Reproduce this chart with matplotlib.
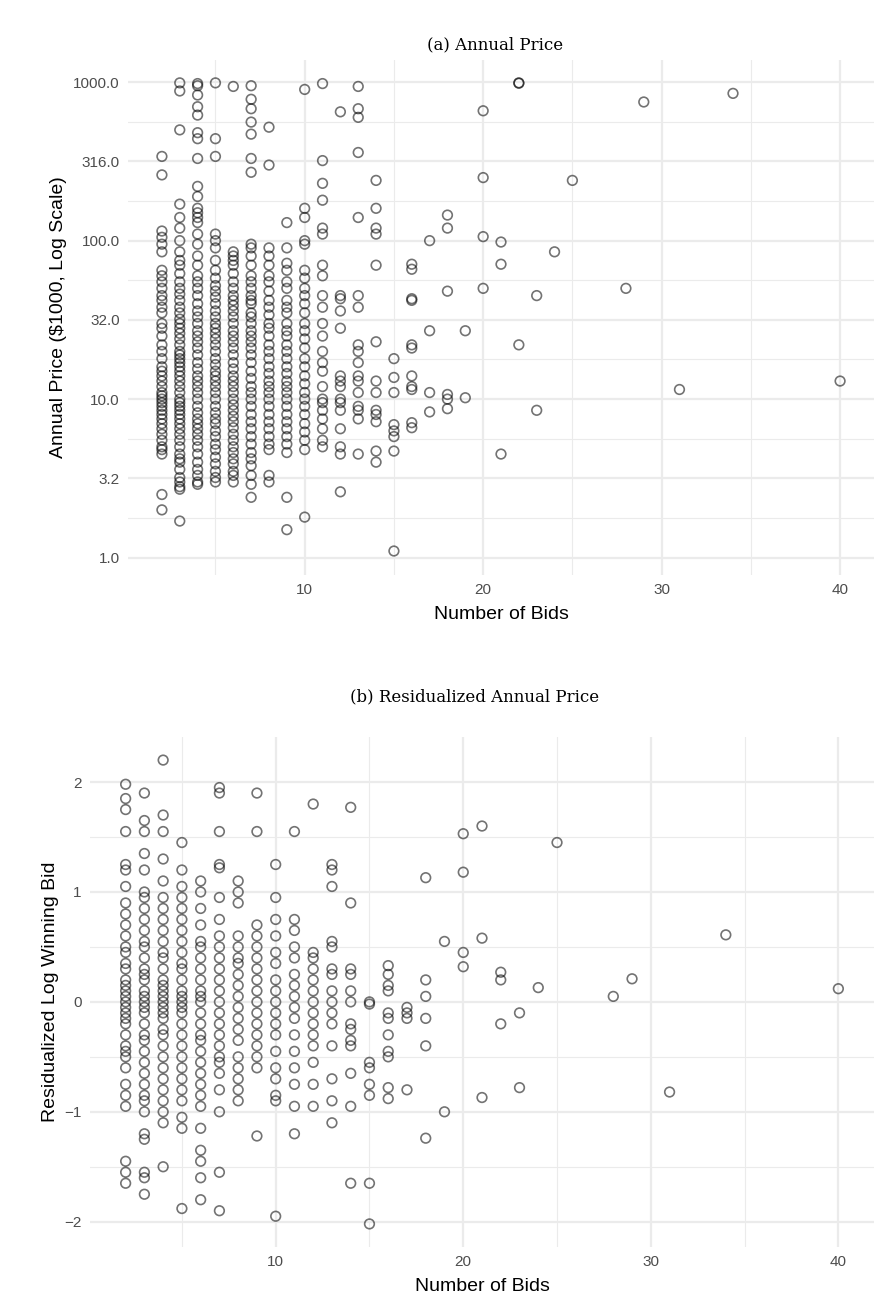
import numpy as np
import matplotlib
matplotlib.use("Agg")
import matplotlib.pyplot as plt
from matplotlib.ticker import FixedLocator, FixedFormatter

# panel (a): annual price ($1000) per number of bids
price = {
    2: [340, 260, 115, 105, 95, 85, 65, 60, 55, 50, 45, 42, 38, 35, 30, 28, 25, 22, 20, 18, 16, 15, 14, 13,
        12, 11, 10.5, 10, 9.5, 9, 8.5, 8, 7.5, 7, 6.5, 6, 5.5, 5, 4.8, 4.5, 2.5, 2.0],
    3: [990, 880, 500, 170, 140, 120, 100, 85, 75, 70, 62, 55, 50, 46, 42, 38, 35, 32, 30, 28, 26, 24, 22,
        20, 19, 18, 17, 16, 15, 14, 13, 12, 11, 10, 9.5, 9, 8.5, 8, 7.5, 7, 6.5, 6, 5.5, 5, 4.5, 4.2, 4.0,
        3.6, 3.2, 3.0, 2.8, 2.7, 1.7],
    4: [980, 950, 830, 700, 620, 480, 440, 330, 220, 190, 160, 150, 140, 130, 110, 95, 80, 70, 60, 55, 50,
        45, 40, 36, 33, 30, 27, 25, 23, 21, 19, 17, 15.5, 14, 13, 12, 11, 10, 9, 8.2, 7.5, 7, 6.5, 6, 5.5,
        5, 4.5, 4, 3.6, 3.3, 3.0, 2.9],
    5: [990, 440, 340, 110, 100, 90, 75, 65, 58, 52, 48, 44, 40, 36, 33, 30, 28, 26, 24, 22, 20, 18, 16.5,
        15, 14, 13, 12, 11, 10, 9, 8.2, 7.5, 7, 6.3, 5.8, 5.2, 4.8, 4.3, 3.9, 3.5, 3.2, 3.0],
    6: [940, 85, 80, 75, 70, 62, 55, 50, 45, 42, 39, 36, 33, 30, 27, 25, 23, 21, 19, 17, 15.5, 14, 13, 12,
        11, 10, 9.2, 8.5, 7.8, 7.2, 6.6, 6, 5.5, 5.0, 4.6, 4.2, 3.9, 3.5, 3.3, 3.0],
    7: [950, 780, 680, 560, 470, 330, 270, 95, 90, 80, 70, 60, 55, 50, 45, 42, 40, 35, 33, 30, 27, 25, 23,
        21, 19, 17, 15, 13.5, 12, 11, 10, 9, 8, 7.2, 6.5, 5.8, 5.2, 4.6, 4.2, 3.8, 3.3, 2.9, 2.4],
    8: [520, 300, 90, 80, 70, 60, 55, 48, 42, 38, 34, 30, 28, 25, 22, 20, 18, 16, 14.5, 13, 12, 11, 10, 9,
        8, 7.2, 6.5, 5.8, 5.2, 4.8, 3.3, 3.0],
    9: [130, 90, 72, 65, 55, 50, 42, 38, 35, 30, 27, 25, 22, 20, 18, 16, 14.5, 13, 12, 11, 10, 9, 8, 7.2,
        6.5, 5.8, 5.2, 4.6, 2.4, 1.5],
    10: [900, 160, 140, 100, 95, 65, 58, 50, 45, 40, 35, 30, 27, 24, 21, 18, 16, 14, 12.5, 11, 10, 9, 8, 7,
         6.2, 5.5, 4.8, 1.8],
    11: [980, 320, 230, 180, 120, 110, 70, 60, 45, 38, 30, 25, 20, 17, 15, 12, 10, 9.5, 8.5, 7.5, 6.5, 5.5, 5.0],
    12: [650, 45, 43, 36, 28, 14, 13, 12, 10, 9.5, 8.5, 6.5, 5.0, 4.5, 2.6],
    13: [940, 680, 600, 360, 140, 45, 38, 22, 20, 17, 14, 13, 11, 9, 8.5, 7.5, 4.5],
    14: [240, 160, 120, 110, 70, 23, 13, 11, 8.5, 8, 7.2, 4.7, 4.0],
    15: [18, 13.7, 11, 6.9, 6.3, 5.8, 4.7, 1.1],
    16: [71, 66, 43, 42, 22, 21, 14, 12, 11.5, 7.1, 6.6],
    17: [100, 27, 11, 8.3],
    18: [145, 120, 48, 10.7, 10, 8.7],
    19: [27, 10.2],
    20: [660, 250, 106, 50],
    21: [98, 71, 4.5],
    22: [990, 985, 22],
    23: [45, 8.5],
    24: [85], 25: [240], 28: [50], 29: [750], 31: [11.5], 34: [850], 40: [13],
}

# panel (b): residualized log winning bid
resid = {
    2: [1.98, 1.85, 1.75, 1.55, 1.25, 1.2, 1.05, 0.9, 0.8, 0.7, 0.6, 0.5, 0.45, 0.35, 0.3, 0.2, 0.15, 0.1,
        0.05, 0, -0.05, -0.1, -0.15, -0.2, -0.3, -0.4, -0.45, -0.5, -0.6, -0.75, -0.85, -0.95, -1.45, -1.55, -1.65],
    3: [1.9, 1.65, 1.55, 1.35, 1.2, 1.0, 0.95, 0.85, 0.75, 0.65, 0.55, 0.5, 0.4, 0.3, 0.25, 0.2, 0.1, 0.05, 0,
        -0.05, -0.1, -0.2, -0.3, -0.35, -0.45, -0.55, -0.65, -0.75, -0.85, -0.9, -1.0, -1.2, -1.25, -1.55,
        -1.6, -1.75],
    4: [2.2, 1.7, 1.55, 1.3, 1.1, 0.95, 0.85, 0.75, 0.65, 0.55, 0.45, 0.4, 0.3, 0.2, 0.15, 0.1, 0.05, 0,
        -0.05, -0.1, -0.15, -0.25, -0.3, -0.4, -0.5, -0.6, -0.7, -0.8, -0.9, -1.0, -1.1, -1.5],
    5: [1.45, 1.2, 1.05, 0.95, 0.85, 0.75, 0.65, 0.55, 0.45, 0.35, 0.3, 0.2, 0.1, 0.05, 0, -0.05, -0.1, -0.2,
        -0.3, -0.4, -0.5, -0.6, -0.7, -0.8, -0.9, -1.05, -1.15, -1.88],
    6: [1.1, 1.0, 0.85, 0.7, 0.55, 0.5, 0.4, 0.3, 0.2, 0.1, 0.05, 0, -0.1, -0.2, -0.3, -0.35, -0.45, -0.55,
        -0.65, -0.75, -0.85, -0.95, -1.15, -1.35, -1.45, -1.6, -1.8],
    7: [1.95, 1.9, 1.55, 1.25, 1.22, 0.95, 0.75, 0.6, 0.5, 0.4, 0.3, 0.2, 0.1, 0, -0.1, -0.2, -0.3, -0.4,
        -0.5, -0.55, -0.65, -0.8, -1.0, -1.55, -1.9],
    8: [1.1, 1.0, 0.9, 0.6, 0.5, 0.4, 0.35, 0.25, 0.15, 0.05, -0.05, -0.15, -0.25, -0.35, -0.5, -0.6, -0.7,
        -0.8, -0.9],
    9: [1.9, 1.55, 0.7, 0.6, 0.5, 0.4, 0.3, 0.2, 0.1, 0.0, -0.1, -0.2, -0.3, -0.4, -0.5, -0.6, -1.22],
    10: [1.25, 0.95, 0.75, 0.6, 0.45, 0.35, 0.2, 0.1, 0, -0.1, -0.2, -0.3, -0.45, -0.6, -0.7, -0.85, -0.9, -1.95],
    11: [1.55, 0.75, 0.65, 0.5, 0.4, 0.25, 0.15, 0.05, -0.05, -0.15, -0.3, -0.45, -0.6, -0.75, -0.95, -1.2],
    12: [1.8, 0.45, 0.4, 0.3, 0.2, 0.1, 0, -0.1, -0.2, -0.3, -0.4, -0.55, -0.75, -0.95],
    13: [1.25, 1.2, 1.05, 0.55, 0.5, 0.3, 0.25, 0.1, 0, -0.1, -0.2, -0.4, -0.7, -0.9, -1.1],
    14: [1.77, 0.9, 0.3, 0.25, 0.1, 0, -0.2, -0.25, -0.35, -0.4, -0.65, -0.95, -1.65],
    15: [0, -0.02, -0.55, -0.6, -0.75, -0.85, -1.65, -2.02],
    16: [0.33, 0.25, 0.15, 0.1, -0.1, -0.15, -0.3, -0.45, -0.5, -0.78, -0.88],
    17: [-0.05, -0.1, -0.15, -0.8],
    18: [1.13, 0.2, 0.05, -0.15, -0.4, -1.24],
    19: [0.55, -1.0],
    20: [1.53, 1.18, 0.45, 0.32],
    21: [1.6, 0.58, -0.87],
    22: [0.27, 0.2, -0.2],
    23: [-0.1, -0.78],
    24: [0.13], 25: [1.45], 28: [0.05], 29: [0.21], 31: [-0.82], 34: [0.61], 40: [0.12],
}


def flat(d):
    xs, ys = [], []
    for k, v in d.items():
        xs += [k] * len(v)
        ys += v
    return np.array(xs, float), np.array(ys, float)


W, H = 883, 1316
fig = plt.figure(figsize=(W / 100, H / 100), dpi=100)
plt.rcParams['font.family'] = ['Liberation Sans', 'DejaVu Sans']


def style(ax):
    for s in ax.spines.values():
        s.set_visible(False)
    ax.tick_params(which='both', length=0, labelsize=11, labelcolor='#4d4d4d', pad=6)
    ax.grid(which='major', color='#ebebeb', lw=1.6)
    ax.grid(which='minor', color='#ebebeb', lw=0.8)
    ax.set_axisbelow(True)
    ax.set_xlim(0.1, 41.9)
    ax.xaxis.set_major_locator(FixedLocator([10, 20, 30, 40]))
    ax.xaxis.set_minor_locator(FixedLocator([5, 15, 25, 35]))
    ax.set_xlabel('Number of Bids', fontsize=14, labelpad=6)


mk = dict(s=48, facecolors='none', edgecolors=(0, 0, 0, 0.55), linewidths=1.2)

# panel a
ax1 = fig.add_axes([128 / W, 1 - 575 / H, 746 / W, 515 / H])
x, y = flat(price)
ax1.scatter(x, y, **mk)
ax1.set_yscale('log')
ax1.set_ylim(10 ** -0.11, 10 ** 3.14)
maj = [1, 10 ** 0.5, 10, 10 ** 1.5, 100, 10 ** 2.5, 1000]
ax1.yaxis.set_major_locator(FixedLocator(maj))
ax1.yaxis.set_major_formatter(FixedFormatter(['1.0', '3.2', '10.0', '32.0', '100.0', '316.0', '1000.0']))
ax1.yaxis.set_minor_locator(FixedLocator([10 ** (k / 4) for k in (1, 3, 5, 7, 9, 11)]))
ax1.yaxis.set_minor_formatter(FixedFormatter([''] * 6))
style(ax1)
ax1.set_ylabel('Annual Price ($1000, Log Scale)', fontsize=14)
fig.text(495 / W, 1 - 45 / H, '(a) Annual Price', ha='center', va='center',
         fontsize=12, family='DejaVu Serif')

# panel b
ax2 = fig.add_axes([90 / W, 1 - 1247 / H, 784 / W, 510 / H])
x, y = flat(resid)
ax2.scatter(x, y, **mk)
ax2.set_ylim(-2.23, 2.41)
ax2.yaxis.set_major_locator(FixedLocator([-2, -1, 0, 1, 2]))
ax2.yaxis.set_major_formatter(FixedFormatter(['\u22122', '\u22121', '0', '1', '2']))
ax2.yaxis.set_minor_locator(FixedLocator([-1.5, -0.5, 0.5, 1.5]))
style(ax2)
ax2.set_ylabel('Residualized Log Winning Bid', fontsize=14)
fig.text(475 / W, 1 - 697 / H, '(b) Residualized Annual Price', ha='center', va='center',
         fontsize=12, family='DejaVu Serif')

fig.savefig('out.png', dpi=100)
